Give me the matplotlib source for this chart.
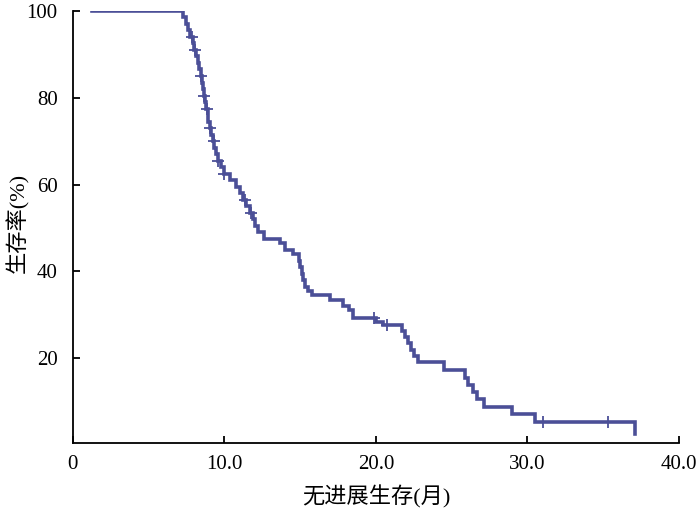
import numpy as np
import matplotlib
matplotlib.use("Agg")
import matplotlib.pyplot as plt

# 无进展生存 KM 曲线
times = [1.25, 7.25, 7.45, 7.6, 7.75, 7.9, 8.0, 8.15, 8.25, 8.35, 8.45, 8.5, 8.6,
         8.65, 8.75, 8.8, 8.9, 8.95, 9.05, 9.15, 9.25, 9.35, 9.45, 9.6, 9.75,
         9.95, 10.35, 10.8, 11.0, 11.2, 11.45, 11.7, 11.9, 12.05, 12.2, 12.6,
         13.7, 14.0, 14.5, 14.9, 15.0, 15.1, 15.2, 15.35, 15.5, 15.8, 17.0,
         17.8, 18.2, 18.5, 20.0, 20.5, 21.7, 21.9, 22.1, 22.3, 22.5, 22.8,
         24.5, 25.9, 26.1, 26.4, 26.7, 27.1, 29.0, 30.5, 37.1]
surv = [100, 98.5, 97, 95.5, 94, 92.5, 91, 89.5, 88, 86.5, 85, 83.5, 82,
        80.5, 79, 77.5, 76, 74.5, 73, 71.5, 70, 68.5, 67, 65.5, 64,
        62.5, 61, 59.5, 58, 56.5, 55, 53.5, 52, 50.5, 49, 47.5,
        46.5, 45, 44, 42.5, 41, 39.5, 38, 36.5, 35.5, 34.5, 33.3,
        32, 31, 29.3, 28.3, 27.6, 26.2, 24.8, 23.4, 22, 20.6, 19.1,
        17.2, 15.5, 13.8, 12.2, 10.5, 8.8, 7.1, 5.2, 2.5]
censor_t = [7.85, 8.05, 8.45, 8.65, 8.85, 9.05, 9.3, 9.6, 10.0, 11.35, 11.75,
            19.9, 20.7, 31.0, 35.3]

xticks = [0, 10, 20, 30, 40]
xticklabels = ["0", "10.0", "20.0", "30.0", "40.0"]
yticks = [20, 40, 60, 80, 100]

col = "#4b4f97"
fonts = ["Liberation Serif", "Noto Sans CJK SC"]

fig = plt.figure(figsize=(7, 5.18), dpi=100)
ax = fig.add_axes([0.104, 0.145, 0.866, 0.834])

ax.step(times, surv, where="post", color=col, lw=2.6, solid_joinstyle="miter")
idx = np.searchsorted(times, censor_t, side="right") - 1
cy = np.array(surv)[idx]
ax.plot(censor_t, cy, ls="none", marker="+", ms=9, mew=1.3, color=col)

ax.set_xlim(0, 40)
ax.set_ylim(0.5, 100)
ax.spines["top"].set_visible(False)
ax.spines["right"].set_visible(False)
for s in ["left", "bottom"]:
    ax.spines[s].set_linewidth(1.3)
ax.set_xticks(xticks)
ax.set_xticklabels(xticklabels)
ax.set_yticks(yticks)
ax.tick_params(direction="in", length=5, width=1.3)
ax.tick_params(axis="x", pad=9)
ax.tick_params(axis="y", pad=11)
for lab in ax.get_xticklabels() + ax.get_yticklabels():
    lab.set_family(fonts)
    lab.set_fontsize(15)

ax.set_xlabel("无进展生存(月)", family=fonts, fontsize=16, labelpad=8)
ax.set_ylabel("生存率(%)", family=fonts, fontsize=16)
ax.yaxis.set_label_coords(-0.072, 0.51)

fig.savefig("out.png", dpi=100)
